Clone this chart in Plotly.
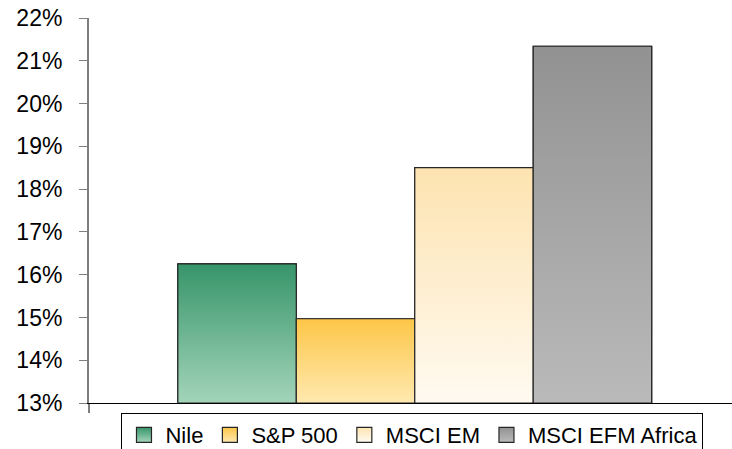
import plotly.graph_objects as go

# ---- data ----
series_names = ["Nile", "S&P 500", "MSCI EM", "MSCI EFM Africa"]
series_values = [16.25, 14.97, 18.50, 21.34]  # percent
y_ticks = [13, 14, 15, 16, 17, 18, 19, 20, 21, 22]
y_tick_labels = [f"{t}%" for t in y_ticks]

# ---- styles ----
gradients = [
    [[0, "#a3d4b9"], [1, "#37956a"]],
    [[0, "#ffe9b0"], [1, "#fdc647"]],
    [[0, "#fffaf1"], [1, "#fde3b0"]],
    [[0, "#bababa"], [1, "#929292"]],
]
solid = ["#62ad87", "#fed67a", "#feefd2", "#a6a6a6"]
outline = "#262626"
BAR_W = 1.0
Y_MIN, Y_MAX = 13, 22
X_RANGE = [-1.25, 4.178]
FONT = "Arial, Liberation Sans, sans-serif"

fig = go.Figure()

# bar traces (data)
for i, (name, v) in enumerate(zip(series_names, series_values)):
    fig.add_trace(go.Bar(
        x=[i], y=[v - Y_MIN], base=Y_MIN, width=BAR_W, name=name,
        legendgroup=name, showlegend=False,
        marker=dict(color=solid[i], line=dict(color=outline, width=1.2)),
        hoverinfo="skip",
    ))

# gradient fill overlays computed from the same data
for i, (name, v) in enumerate(zip(series_names, series_values)):
    x0, x1 = i - BAR_W / 2, i + BAR_W / 2
    fig.add_trace(go.Scatter(
        x=[x0, x1, x1, x0, x0], y=[Y_MIN, Y_MIN, v, v, Y_MIN],
        mode="lines", fill="toself",
        fillgradient=dict(type="vertical", colorscale=gradients[i]),
        line=dict(color=outline, width=1.2),
        legendgroup=name, showlegend=False, hoverinfo="skip",
    ))

# legend entries (square swatches)
for i, name in enumerate(series_names):
    fig.add_trace(go.Scatter(
        x=[None], y=[None], mode="markers", name=name, legendgroup=name,
        marker=dict(symbol="square", size=15, color=gradients[i][1][1],
                    gradient=dict(type="vertical", color=gradients[i][0][1]),
                    line=dict(color=outline, width=1.2)),
        hoverinfo="skip",
    ))

fig.update_layout(
    width=732, height=449,
    margin=dict(l=89, r=0, t=18, b=46),
    paper_bgcolor="white", plot_bgcolor="white",
    font=dict(family=FONT, color="black"),
    barmode="overlay",
    showlegend=True,
    legend=dict(
        orientation="h", xref="container", yref="container",
        x=0.5635, xanchor="center", y=0.0802, yanchor="top",
        bordercolor="black", borderwidth=1, bgcolor="white",
        font=dict(family=FONT, size=22, color="black"),
        itemwidth=33,
        traceorder="normal", itemclick=False, itemdoubleclick=False,
    ),
    xaxis=dict(
        range=X_RANGE, showgrid=False, zeroline=False, automargin=False,
        showline=True, linecolor="black", linewidth=1,
        tickvals=[X_RANGE[0]], ticktext=[""], ticks="outside", ticklen=9,
        tickcolor="#7f7f7f", tickwidth=2, showticklabels=False,
    ),
    yaxis=dict(
        range=[Y_MIN, Y_MAX], tickvals=y_ticks, ticktext=y_tick_labels,
        showgrid=False, zeroline=False, automargin=False,
        showline=True, linecolor="#7f7f7f", linewidth=2,
        ticks="outside", ticklen=8, tickcolor="#7f7f7f", tickwidth=1,
        ticklabelstandoff=12,
        tickfont=dict(family=FONT, size=23, color="black"),
    ),
)

fig.write_html("out.html")
